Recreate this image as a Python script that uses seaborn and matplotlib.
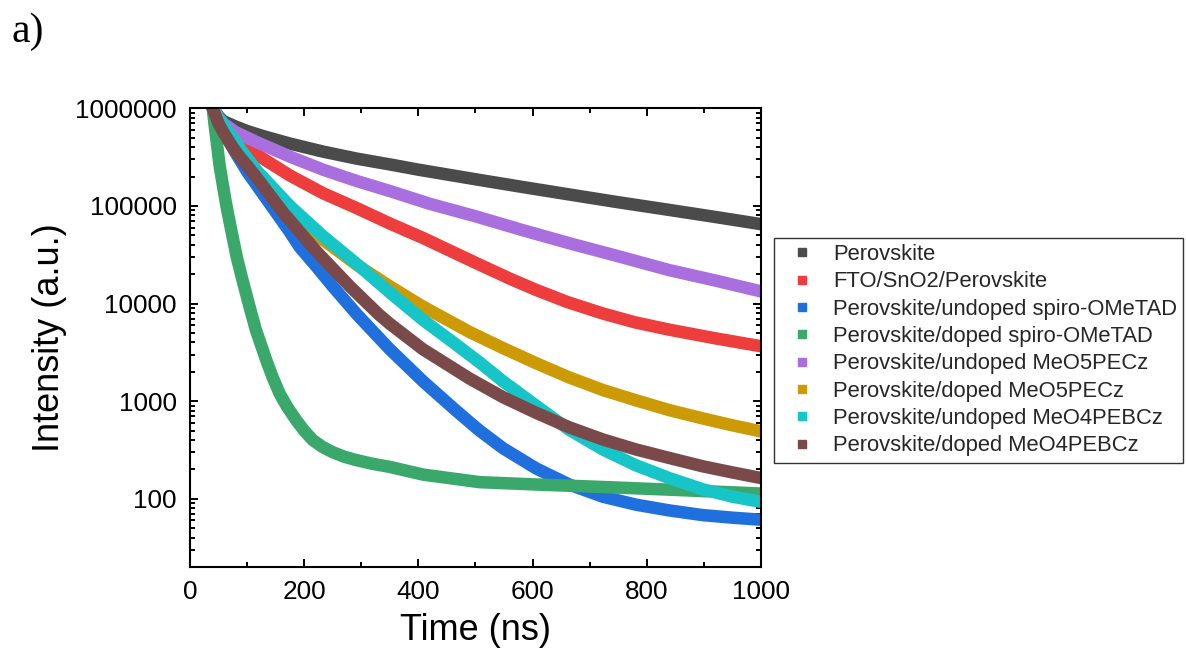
import numpy as np
import pandas as pd
import matplotlib
matplotlib.use("Agg")
import matplotlib.pyplot as plt
import matplotlib.ticker as mticker
from matplotlib.lines import Line2D
import seaborn as sns

# ---------------- data ----------------
labels = [
    "Perovskite",
    "FTO/SnO2/Perovskite",
    "Perovskite/undoped spiro-OMeTAD",
    "Perovskite/doped spiro-OMeTAD",
    "Perovskite/undoped MeO5PECz",
    "Perovskite/doped MeO5PECz",
    "Perovskite/undoped MeO4PEBCz",
    "Perovskite/doped MeO4PEBCz",
]
colors = ["#4b4b4b", "#ee3d3d", "#1f6fdc", "#3aa86b", "#a96fdf", "#cc9a05", "#17c5c8", "#7a4a4a"]

t_perov = [40, 50, 58, 80, 100, 130, 175, 233, 292, 350, 400, 501, 580, 664, 750, 839, 920, 1000]
i_perov = [1e6, 8.3e5, 7.4e5, 6.5e5, 5.85e5, 5.15e5, 4.35e5, 3.6e5, 3.05e5, 2.66e5, 2.35e5,
           1.87e5, 1.57e5, 1.31e5, 1.09e5, 9.1e4, 7.7e4, 6.5e4]

t_fto = [40, 50, 60, 76, 100, 117, 175, 233, 292, 350, 408, 501, 560, 606, 660, 723, 780, 839,
         920, 1000]
i_fto = [1e6, 7.8e5, 6.5e5, 5.0e5, 3.9e5, 3.35e5, 2.05e5, 1.35e5, 9.5e4, 6.6e4, 4.7e4, 2.6e4,
         1.8e4, 1.38e4, 1.04e4, 7.9e3, 6.4e3, 5.4e3, 4.4e3, 3.65e3]

t_unspiro = [40, 50, 60, 80, 100, 125, 150, 175, 192, 220, 250, 292, 315, 350, 408, 466, 507,
             548, 606, 664, 723, 781, 839, 898, 950, 1000]
i_unspiro = [1e6, 7.3e5, 5.6e5, 3.5e5, 2.25e5, 1.4e5, 8.7e4, 5.4e4, 3.8e4, 2.45e4, 1.5e4,
             7.8e3, 5.6e3, 3.4e3, 1.6e3, 800, 500, 330, 205, 140, 105, 87, 76, 68, 64, 61]

t_dspiro = [40, 43, 47, 52, 58, 64, 72, 82, 92, 102, 115, 125, 134, 145, 157, 170, 186, 200,
            215, 232, 250, 270, 290, 320, 350, 408, 507, 606, 723, 839, 1000]
i_dspiro = [1e6, 7e5, 4.5e5, 2.6e5, 1.6e5, 1e5, 5.8e4, 3e4, 1.75e4, 1.05e4, 5.5e3, 3.7e3, 2.6e3,
            1.75e3, 1.2e3, 880, 640, 500, 400, 340, 300, 270, 250, 228, 212, 177, 148, 140, 132,
            124, 113]

t_un5 = [40, 50, 60, 80, 117, 175, 233, 292, 350, 420, 501, 580, 664, 750, 839, 920, 1000]
i_un5 = [1e6, 8e5, 6.9e5, 5.7e5, 4.5e5, 3.2e5, 2.35e5, 1.8e5, 1.42e5, 1.05e5, 7.8e4, 5.7e4,
         4.15e4, 3.05e4, 2.2e4, 1.72e4, 1.33e4]

t_d5 = [40, 50, 60, 76, 100, 117, 175, 233, 292, 350, 408, 490, 548, 606, 664, 723, 781, 839,
        898, 950, 1000]
i_d5 = [1e6, 7.9e5, 6.5e5, 4.9e5, 3.0e5, 2.15e5, 8.8e4, 4.5e4, 2.5e4, 1.5e4, 9.3e3, 5.1e3,
        3.5e3, 2.45e3, 1.75e3, 1.3e3, 1.02e3, 810, 665, 565, 490]

t_un4 = [40, 50, 60, 76, 87, 100, 117, 175, 233, 292, 350, 408, 466, 507, 548, 606, 664, 723,
         781, 839, 898, 950, 1000]
i_un4 = [1e6, 8e5, 6.6e5, 4.9e5, 3.9e5, 3.1e5, 2.3e5, 1.0e5, 4.9e4, 2.55e4, 1.3e4, 6.8e3,
         3.8e3, 2.5e3, 1.6e3, 900, 510, 320, 220, 163, 125, 105, 93]

t_d4 = [40, 50, 60, 76, 87, 100, 117, 163, 222, 280, 330, 350, 408, 490, 548, 606, 664, 723,
        781, 839, 898, 950, 1000]
i_d4 = [1e6, 7e5, 5.5e5, 3.9e5, 3.2e5, 2.6e5, 1.95e5, 8.6e4, 3.4e4, 1.5e4, 7.8e3, 6.2e3,
        3.4e3, 1.7e3, 1.1e3, 760, 540, 405, 320, 262, 215, 186, 163]

times = [t_perov, t_fto, t_unspiro, t_dspiro, t_un5, t_d5, t_un4, t_d4]
intens = [i_perov, i_fto, i_unspiro, i_dspiro, i_un5, i_d5, i_un4, i_d4]

x_ticks = [0, 200, 400, 600, 800, 1000]
y_ticks = [100, 1000, 10000, 100000, 1000000]

# ---------------- build long table ----------------
frames = []
for lab, t, v in zip(labels, times, intens):
    frames.append(pd.DataFrame({"Time": t, "Intensity": v, "Sample": lab}))
df = pd.concat(frames, ignore_index=True)
palette = dict(zip(labels, colors))

# ---------------- style ----------------
sns.set_theme(style="ticks")
plt.rcParams["font.family"] = ["Liberation Sans", "DejaVu Sans"]

fig = plt.figure(figsize=(11.86, 6.59), dpi=100)
ax = fig.add_axes([0.1601, 0.1396, 0.4816, 0.6961])

sns.lineplot(data=df, x="Time", y="Intensity", hue="Sample", hue_order=labels,
             palette=palette, estimator=None, sort=False, linewidth=9,
             legend=False, ax=ax)
for ln in ax.get_lines():
    ln.set_solid_joinstyle("round")

ax.set_yscale("log")
ax.set_xlim(0, 1000)
ax.set_ylim(20, 1.0e6)

ax.xaxis.set_major_locator(mticker.FixedLocator(x_ticks))
ax.xaxis.set_minor_locator(mticker.MultipleLocator(100))
ax.yaxis.set_major_locator(mticker.FixedLocator(y_ticks))
ax.yaxis.set_minor_locator(mticker.LogLocator(base=10, subs=np.arange(2, 10), numticks=20))
ax.yaxis.set_major_formatter(mticker.FuncFormatter(lambda v, p: f"{int(round(v))}"))
ax.yaxis.set_minor_formatter(mticker.NullFormatter())

for s in ax.spines.values():
    s.set_visible(True)
    s.set_linewidth(1.5)
    s.set_color("black")

ax.tick_params(which="both", direction="in", top=True, right=True, color="black", width=1.4)
ax.tick_params(which="major", length=6, labelsize=18.8, pad=9.5, labelcolor="black")
ax.tick_params(which="minor", length=3.5)

ax.set_xlabel("Time (ns)", fontsize=26, labelpad=6, color="black")
ax.set_ylabel("Intensity (a.u.)", fontsize=26, labelpad=6, color="black")

handles = [Line2D([0], [0], marker="s", linestyle="none", color=c, markersize=6) for c in colors]
leg = fig.legend(handles, labels, loc="upper left",
                 bbox_to_anchor=(774 / 1186, 1 - 237.7 / 659),
                 bbox_transform=fig.transFigure,
                 fontsize=15.8, frameon=True, fancybox=False, framealpha=1,
                 edgecolor="#333333", borderpad=0.28, labelspacing=0.29,
                 handlelength=1.96, handletextpad=0.46, borderaxespad=0)
leg.get_frame().set_linewidth(1.0)

fig.text(11.7 / 1186, 1 - 41.7 / 659, "a)", fontsize=30, family="Liberation Serif",
         va="baseline", ha="left", color="black")

fig.savefig("out.png", dpi=100)
